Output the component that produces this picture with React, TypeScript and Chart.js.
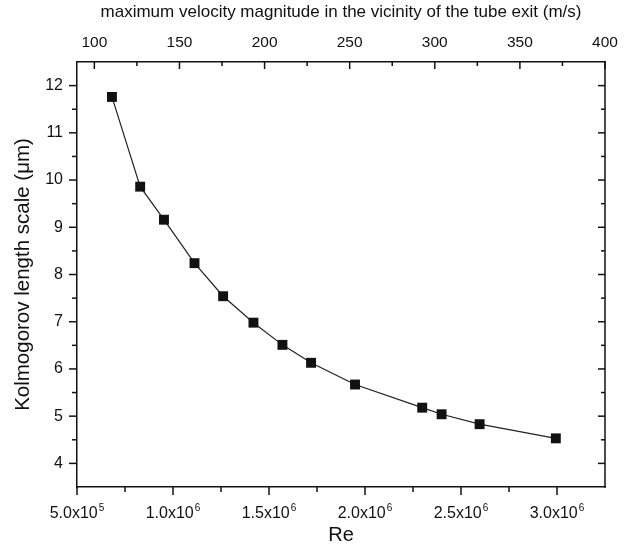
import React, { useEffect, useRef } from 'react';
import { Chart, registerables } from 'chart.js';

Chart.register(...registerables);

// Data
const reValues = [6.82e5, 8.29e5, 9.53e5, 1.112e6, 1.261e6, 1.419e6, 1.57e6, 1.719e6, 1.948e6, 2.298e6, 2.399e6, 2.597e6, 2.994e6];
const lengthScale = [11.76, 9.86, 9.16, 8.24, 7.54, 6.98, 6.51, 6.13, 5.67, 5.18, 5.04, 4.83, 4.53];

// Axis ticks
const reTicks = [5e5, 1e6, 1.5e6, 2e6, 2.5e6, 3e6];
const reTickMantissa = ['5.0x10', '1.0x10', '1.5x10', '2.0x10', '2.5x10', '3.0x10'];
const reTickExponent = ['5', '6', '6', '6', '6', '6'];
const reMinorTicks = [7.5e5, 1.25e6, 1.75e6, 2.25e6, 2.75e6];
const velocityTicks = [100, 150, 200, 250, 300, 350, 400];
const velocityMinorTicks = [125, 175, 225, 275, 325, 375];
const yTicks = [4, 5, 6, 7, 8, 9, 10, 11, 12];
const yMinorTicks = [4.5, 5.5, 6.5, 7.5, 8.5, 9.5, 10.5, 11.5];

const FONT = '"Liberation Sans", Arial, Helvetica, sans-serif';

const tickPlugin = {
  id: 'originTicks',
  afterDraw(chart: any) {
    const ctx = chart.ctx;
    const { left, right, top, bottom } = chart.chartArea;
    const xs = chart.scales.x;
    const ys = chart.scales.y;
    const x2 = chart.scales.x2;
    ctx.save();
    ctx.strokeStyle = '#111';
    ctx.lineWidth = 1.5;
    const line = (a: number, b: number, c: number, d: number) => {
      ctx.beginPath();
      ctx.moveTo(a, b);
      ctx.lineTo(c, d);
      ctx.stroke();
    };
    // right border
    line(right, top - 0.75, right, bottom + 0.75);
    // bottom ticks (outward)
    reTicks.forEach((v) => { const p = xs.getPixelForValue(v); line(p, bottom, p, bottom + 8); });
    reMinorTicks.forEach((v) => { const p = xs.getPixelForValue(v); line(p, bottom, p, bottom + 5); });
    // top ticks (inward)
    velocityTicks.forEach((v) => { const p = x2.getPixelForValue(v); line(p, top, p, top + 7); });
    velocityMinorTicks.forEach((v) => { const p = x2.getPixelForValue(v); line(p, top, p, top + 4); });
    // left ticks (outward), right ticks (inward)
    yTicks.forEach((v) => {
      const p = ys.getPixelForValue(v);
      line(left - 8, p, left, p);
      line(right, p, right - 7, p);
    });
    yMinorTicks.forEach((v) => {
      const p = ys.getPixelForValue(v);
      line(left - 5, p, left, p);
      line(right, p, right - 4, p);
    });
    // bottom tick labels with superscript exponent
    ctx.fillStyle = '#111';
    ctx.textBaseline = 'alphabetic';
    ctx.textAlign = 'left';
    const mainFont = `16px ${FONT}`;
    const supFont = `10px ${FONT}`;
    const baseline = bottom + 31;
    reTicks.forEach((v, i) => {
      const p = xs.getPixelForValue(v);
      ctx.font = mainFont;
      const mw = ctx.measureText(reTickMantissa[i]).width;
      ctx.font = supFont;
      const sw = ctx.measureText(reTickExponent[i]).width;
      const start = p - (mw + sw + 1) / 2;
      ctx.font = mainFont;
      ctx.fillText(reTickMantissa[i], start, baseline);
      ctx.font = supFont;
      ctx.fillText(reTickExponent[i], start + mw + 1, baseline - 7);
    });
    ctx.restore();
  },
};

export default function App() {
  const canvasRef = useRef<HTMLCanvasElement | null>(null);

  useEffect(() => {
    if (!canvasRef.current) return;
    const gridCommon = {
      display: true,
      drawOnChartArea: false,
      drawTicks: true,
      tickLength: 8,
      tickColor: 'rgba(0,0,0,0)',
      color: 'rgba(0,0,0,0)',
    };
    const chart = new Chart(canvasRef.current, {
      type: 'line',
      data: {
        datasets: [
          {
            data: reValues.map((r, i) => ({ x: r, y: lengthScale[i] })),
            borderColor: '#222',
            borderWidth: 1.2,
            backgroundColor: '#111',
            pointStyle: 'rect',
            pointRadius: 7,
            pointBorderWidth: 0,
            pointBackgroundColor: '#111',
            tension: 0,
            xAxisID: 'x',
            yAxisID: 'y',
          },
        ],
      },
      options: {
        responsive: false,
        animation: false,
        events: [],
        layout: { padding: { left: 0, right: 21, top: 0, bottom: 0 } },
        plugins: { legend: { display: false }, tooltip: { enabled: false } },
        scales: {
          x: {
            type: 'linear',
            position: 'bottom',
            min: 5e5,
            max: 3.25e6,
            afterFit: (s: any) => { s.height = 63; },
            afterBuildTicks: (s: any) => { s.ticks = reTicks.map((v) => ({ value: v })); },
            grid: gridCommon,
            border: { display: true, color: '#111', width: 1.5 },
            ticks: {
              color: '#111',
              padding: 6,
              maxRotation: 0,
              font: { family: FONT, size: 16 },
              callback: () => '',
            },
            title: {
              display: true,
              text: 'Re',
              color: '#111',
              font: { family: FONT, size: 20 },
              padding: { top: 0, bottom: 3 },
            },
          },
          x2: {
            type: 'linear',
            position: 'top',
            min: 89.8,
            max: 400,
            afterFit: (s: any) => { s.height = 62; },
            afterBuildTicks: (s: any) => { s.ticks = velocityTicks.map((v) => ({ value: v })); },
            grid: gridCommon,
            border: { display: true, color: '#111', width: 1.5 },
            ticks: {
              color: '#111',
              padding: 2,
              maxRotation: 0,
              font: { family: FONT, size: 15.5 },
            },
            title: {
              display: true,
              text: 'maximum velocity magnitude in the vicinity of the tube exit (m/s)',
              color: '#111',
              font: { family: FONT, size: 17 },
              padding: { top: 2, bottom: 0 },
            },
          },
          y: {
            type: 'linear',
            position: 'left',
            min: 3.5,
            max: 12.5,
            afterFit: (s: any) => { s.width = 77; },
            afterBuildTicks: (s: any) => { s.ticks = yTicks.map((v) => ({ value: v })); },
            grid: gridCommon,
            border: { display: true, color: '#111', width: 1.5 },
            ticks: {
              color: '#111',
              padding: 6,
              font: { family: FONT, size: 16 },
            },
            title: {
              display: true,
              text: 'Kolmogorov length scale (μm)',
              color: '#111',
              font: { family: FONT, size: 20.5 },
              padding: { top: 11, bottom: 0 },
            },
          },
        },
      },
      plugins: [tickPlugin],
    } as any);
    return () => chart.destroy();
  }, []);

  return (
    <div style={{ position: 'absolute', left: 0, top: 0, width: 626, height: 550, background: '#fff' }}>
      <canvas ref={canvasRef} width={626} height={550} />
    </div>
  );
}
